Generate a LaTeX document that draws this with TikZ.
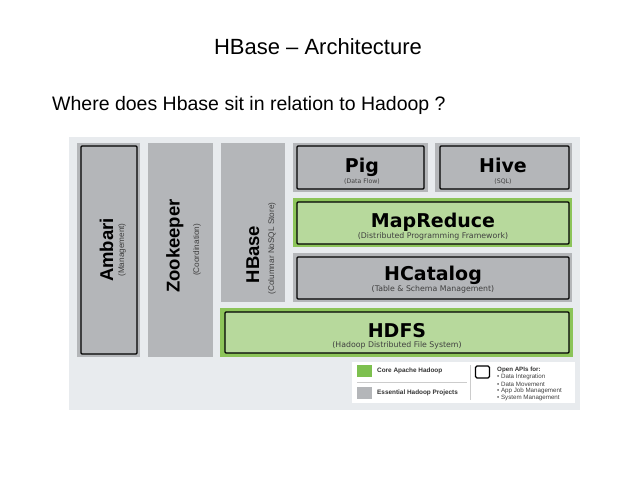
\documentclass[tikz,border=0pt]{standalone}
\usepackage{fontspec}
\setmainfont{Liberation Sans}
\newfontfamily\blkfont{DejaVu Sans}
\usepackage{tikz}

\definecolor{panelbg}{HTML}{E8EBEE}
\definecolor{essgray}{HTML}{B4B6B9}
\definecolor{coreedge}{HTML}{8CC459}
\definecolor{corefill}{HTML}{B7D99C}
\definecolor{legendgreen}{HTML}{7DC04F}

\tikzset{
  essouter/.style={fill=essgray},
  coreouter/.style={fill=coreedge},
  essbox/.style={draw=black, line width=1.1pt, fill=essgray, rounded corners=1pt},
  corebox/.style={draw=black, line width=1.1pt, fill=corefill, rounded corners=1pt},
  blkname/.style={font=\blkfont\bfseries\fontsize{19}{19}\selectfont, inner sep=0pt, anchor=base},
  blksub/.style={font=\blkfont\fontsize{7.8}{8}\selectfont, inner sep=0pt, anchor=base, text=black!75},
  colname/.style={font=\bfseries\fontsize{18.5}{19}\selectfont, inner sep=0pt, anchor=base, rotate=90},
  colsub/.style={font=\fontsize{8.2}{9}\selectfont, inner sep=0pt, rotate=90, text=black!75},
  legtext/.style={font=\bfseries\fontsize{6.4}{7}\selectfont, inner sep=0pt, anchor=west, text=black!80},
  apitext/.style={font=\fontsize{6.2}{7}\selectfont, inner sep=0pt, anchor=west, text=black!75}
}

\begin{document}
\begin{tikzpicture}[x=1pt,y=-1pt]
\useasboundingbox[fill=white] (0,0) rectangle (638,479);
% Headings
\node[font=\fontsize{22}{24}\selectfont, inner sep=0pt] (title) at (318,47) {HBase -- Architecture};
\node[font=\fontsize{19.5}{22}\selectfont, inner sep=0pt, anchor=base west] (question) at (52,110) {Where does Hbase sit in relation to Hadoop ?};
% Panel
\fill[panelbg] (69,137) rectangle (580,410);
% Vertical columns
\fill[essouter] (77,143) rectangle (140,357);
\node[essbox, minimum width=56, minimum height=208] (ambaribox) at (109,250) {};
\node[colname] (ambari) at (113,250) {Ambari};
\node[colsub] (ambarisub) at (122,250) {(Management)};
\fill[essouter] (148,143) rectangle (213,357);
\node[colname] (zookeeper) at (179.5,246) {Zookeeper};
\node[colsub] (zookeepersub) at (197,250) {(Coordination)};
\fill[essouter] (221,143) rectangle (285,302);
\node[colname] (hbase) at (259,254.5) {HBase};
\node[colsub] (hbasesub) at (272,248.5) {(Columnar NoSQL Store)};
% Pig and Hive
\fill[essouter] (293,143) rectangle (428,192);
\node[essbox, minimum width=127, minimum height=43] (pigbox) at (360.5,167.5) {};
\node[blkname] (pig) at (362,172) {Pig};
\node[blksub, font=\blkfont\fontsize{6.2}{7}\selectfont] (pigsub) at (362,183) {(Data Flow)};
\fill[essouter] (435,143) rectangle (572,192);
\node[essbox, minimum width=129, minimum height=43] (hivebox) at (504.5,167.5) {};
\node[blkname] (hive) at (503,172) {Hive};
\node[blksub, font=\blkfont\fontsize{6.2}{7}\selectfont] (hivesub) at (503,183) {(SQL)};
% MapReduce
\fill[coreouter] (293,198) rectangle (572,247);
\node[corebox, minimum width=272, minimum height=42] (mapredbox) at (433,223) {};
\node[blkname] (mapred) at (433,227) {MapReduce};
\node[blksub] (mapredsub) at (433,238) {(Distributed Programming Framework)};
% HCatalog
\fill[essouter] (293,253) rectangle (572,302);
\node[essbox, minimum width=272, minimum height=42] (hcatbox) at (433,278) {};
\node[blkname] (hcat) at (433,280.5) {HCatalog};
\node[blksub] (hcatsub) at (433,291) {(Table \& Schema Management)};
% HDFS
\fill[coreouter] (220,308) rectangle (573,357);
\node[corebox, minimum width=344, minimum height=41] (hdfsbox) at (397,332.5) {};
\node[blkname] (hdfs) at (397,337) {HDFS};
\node[blksub] (hdfssub) at (397,347) {(Hadoop Distributed File System)};
% Legend
\fill[white] (352,362) rectangle (575,403);
\fill[legendgreen] (357,365) rectangle (372,377);
\node[legtext] (legcore) at (377,371) {Core Apache Hadoop};
\draw[black!20, line width=0.5pt] (357,382) -- (467,382);
\fill[essgray] (357,387) rectangle (372,399);
\node[legtext] (legess) at (377,393) {Essential Hadoop Projects};
\draw[black!20, line width=0.5pt] (470,365) -- (470,400);
\node[draw=black, line width=1.1pt, fill=white, rounded corners=1.5pt, minimum width=14, minimum height=12, inner sep=0pt] (legapi) at (482.5,372) {};
\node[legtext, font=\bfseries\fontsize{6.2}{7}\selectfont] (apihead) at (497,370) {Open APIs for:};
\node[apitext] (api1) at (497,377.3) {• Data Integration};
\node[apitext] (api2) at (497,384.1) {• Data Movement};
\node[apitext] (api3) at (497,390.9) {• App Job Management};
\node[apitext] (api4) at (497,397.7) {• System Management};
\end{tikzpicture}
\end{document}
